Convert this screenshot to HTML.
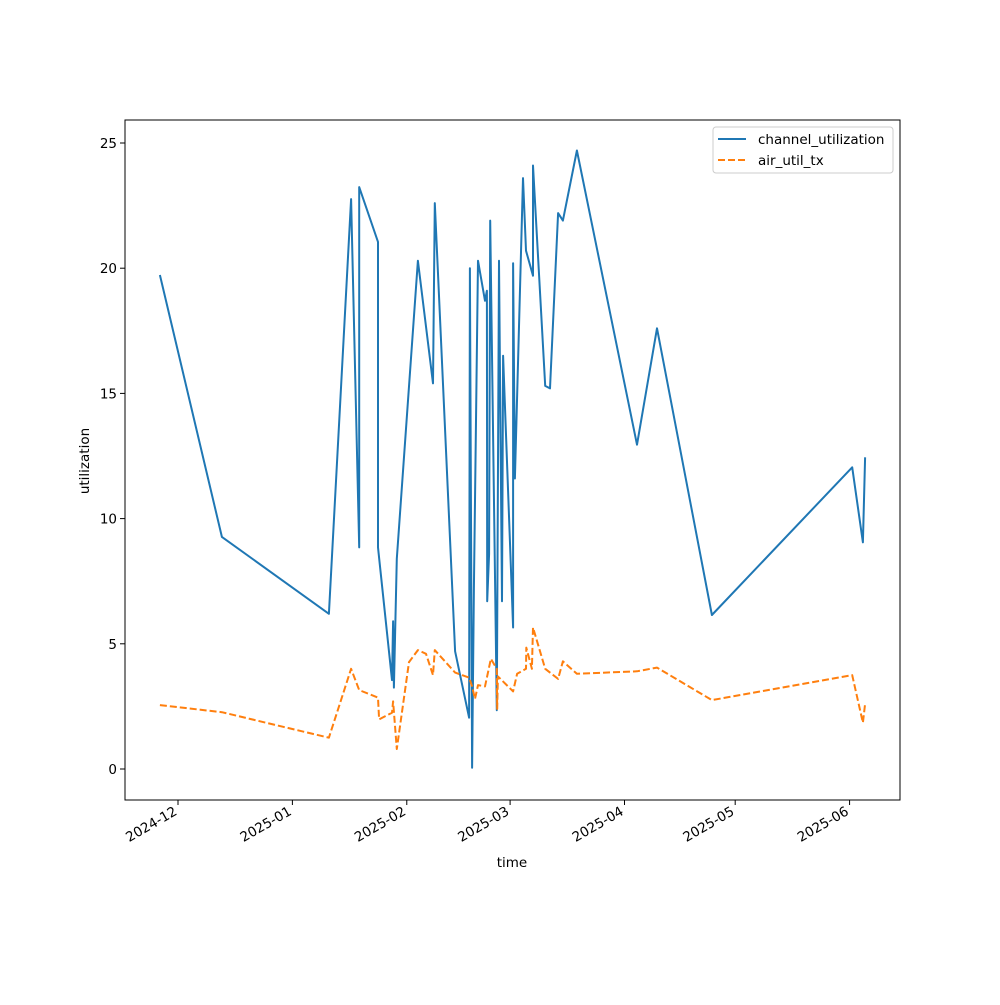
<!DOCTYPE html>
<html><head><meta charset="utf-8"><style>body{margin:0;background:#fff}svg text{font-family:"DejaVu Sans","Liberation Sans",sans-serif}</style></head>
<body>
<svg id="chart" width="1000" height="1000" xmlns="http://www.w3.org/2000/svg">
<rect x="0" y="0" width="1000" height="1000" fill="#fff"/>
<g id="plot"></g>
</svg>
<script>
// days since 2024-12-01
const chDays = [-4.9,11.9,40.9,46.9,49.1,49.1,54.2,54.2,58.0,58.3,58.5,59.3,65.0,69.1,69.6,75.1,78.9,79.1,79.7,80.2,81.3,83.2,83.7,83.8,84.3,84.6,86.4,87.0,87.8,88.1,90.8,90.8,91.3,93.5,94.3,96.2,96.2,99.5,100.8,103.0,104.3,108.1,124.4,129.8,144.7,182.7,185.6,186.2];
const chVals = [19.73,9.27,6.2,22.76,8.85,23.24,21.05,8.85,3.55,5.9,3.25,8.4,20.3,15.4,22.6,4.7,2.05,20.0,0.05,7.2,20.3,18.7,19.1,6.7,8.6,21.9,2.35,20.3,6.7,16.5,5.65,20.2,11.6,23.6,20.7,19.7,24.1,15.3,15.2,22.2,21.9,24.7,12.95,17.6,6.15,12.05,9.05,12.45];
const airDays = [-4.9,11.9,40.9,46.9,49.1,54.2,54.5,58.0,58.3,59.3,62.6,65.0,67.2,69.1,69.6,75.1,78.9,79.7,80.5,81.3,83.2,84.8,86.4,86.5,86.7,90.8,91.9,94.3,94.4,95.9,96.2,99.5,103.0,104.3,108.1,124.4,129.8,144.7,182.7,185.6,186.2];
const airVals = [2.55,2.27,1.25,4.0,3.15,2.85,1.98,2.25,2.7,0.8,4.27,4.75,4.6,3.75,4.75,3.85,3.65,3.3,2.8,3.35,3.3,4.4,4.0,2.4,3.7,3.1,3.8,4.0,4.85,4.0,5.65,4.0,3.6,4.3,3.8,3.9,4.05,2.75,3.75,1.85,2.6];
const xTickDays = [0,31,62,90,121,151,182];
const xTickLabels = ["2024-12","2025-01","2025-02","2025-03","2025-04","2025-05","2025-06"];
const yTicks = [0,5,10,15,20,25];

const L=125,R=900,T=120,B=800;
const xS=d=>178+d*3.69;
const yS=v=>769-v*25.04;
const NS="http://www.w3.org/2000/svg";
const g=document.getElementById('plot');
function mk(tag,attrs){const e=document.createElementNS(NS,tag);for(const k in attrs)e.setAttribute(k,attrs[k]);g.appendChild(e);return e;}

function line(days,vals,color,dash,name){
  const d=days.map((x,i)=>(i?'L':'M')+xS(x).toFixed(1)+','+yS(vals[i]).toFixed(1)).join(' ');
  const p=mk('path',{d:d,fill:'none',stroke:color,'stroke-width':2,'stroke-dasharray':dash,'stroke-linejoin':'round'});
  
  
}
line(chDays,chVals,'#1f77b4','none','channel-utilization-line');
line(airDays,airVals,'#ff7f0e','7,3','air-util-tx-line');

const frame=mk('rect',{x:L,y:T,width:R-L,height:B-T,fill:'none',stroke:'#000','stroke-width':1});



yTicks.forEach(v=>{
  const y=yS(v);
  const t=mk('line',{x1:L-5,x2:L,y1:y,y2:y,stroke:'#000'});
  
  
  const tx=mk('text',{x:L-8,y:y+5,'text-anchor':'end','font-size':13.5});
  tx.textContent=v;
  
  
});
xTickDays.forEach((d,i)=>{
  const x=xS(d);
  const t=mk('line',{x1:x,x2:x,y1:B,y2:B+5,stroke:'#000'});
  
  
  const tx=mk('text',{x:x,y:B+14,'text-anchor':'end','font-size':13.5,transform:`rotate(-30 ${x} ${B+14})`});
  tx.textContent=xTickLabels[i];
  
  
});
const xl=mk('text',{x:512,y:867,'text-anchor':'middle','font-size':13.5});
xl.textContent='time';


const yl=mk('text',{x:89,y:461,'text-anchor':'middle','font-size':13.5,transform:'rotate(-90 89 461)'});
yl.textContent='utilization';



const lg=mk('rect',{x:713,y:127,width:180,height:46,rx:3,fill:'#fff',stroke:'#ccc'});


const l1=mk('line',{x1:718,x2:746,y1:139,y2:139,stroke:'#1f77b4','stroke-width':2});


const t1=mk('text',{x:758,y:144,'font-size':13.5});
t1.textContent='channel_utilization';


const l2=mk('line',{x1:718,x2:746,y1:160,y2:160,stroke:'#ff7f0e','stroke-width':2,'stroke-dasharray':'7,3'});


const t2=mk('text',{x:758,y:165,'font-size':13.5});
t2.textContent='air_util_tx';


</script>
</body></html>
